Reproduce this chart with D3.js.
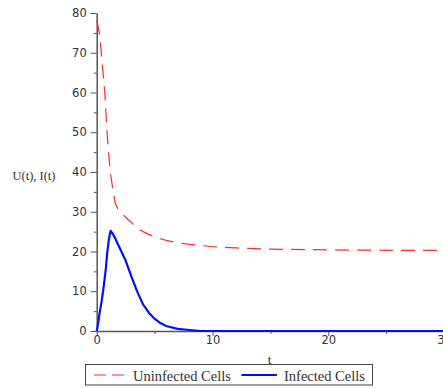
<!DOCTYPE html>
<html>
<head>
<meta charset="utf-8">
<script src="https://cdn.jsdelivr.net/npm/d3@7"></script>
<style>
  body { margin: 0; background: #fff; }
  svg { display: block; }
</style>
</head>
<body>
<script>
// time samples and the two solution curves
let tValues    = [0, 0.1, 0.25, 0.4, 0.55, 0.7, 0.8, 0.9, 1.05, 1.2, 1.4, 1.6, 1.8, 2.0, 2.5, 3.0, 3.5, 4.0, 4.5, 5.0, 5.5, 6.0, 7.0, 8.0, 9.0, 10, 12, 15, 20, 25, 30]
let uninfected = [78, 77, 74.5, 70, 65, 60, 55, 49.5, 44, 39.5, 35.5, 32.2, 30.8, 30, 28.6, 27.3, 25.9, 25.0, 24.3, 23.7, 23.2, 22.8, 22.2, 21.8, 21.5, 21.2, 20.9, 20.6, 20.4, 20.3, 20.3]
let infected   = [0, 1.5, 4.5, 7, 10, 13.5, 16, 19.5, 23, 25.2, 24.4, 23.3, 22.0, 20.8, 17.7, 13.7, 9.9, 6.7, 4.6, 3.1, 2.0, 1.25, 0.55, 0.25, 0, 0, 0, 0, 0, 0, 0]

let xTicks = [0, 10, 20, 30]
let yTicks = [0, 10, 20, 30, 40, 50, 60, 70, 80]
let seriesNames = ["Uninfected Cells", "Infected Cells"]

let width = 443
let height = 388

let svg = d3.select("body")
    .append("svg")
    .attr("width", width)
    .attr("height", height)

let xScale = d3.scaleLinear().domain([0, 30]).range([96.7, 444.1])
let yScale = d3.scaleLinear().domain([0, 80]).range([331, 13])

let axisColor = "#555"
let textColor = "#333"

// minor ticks first
svg.append("g")
    .attr("transform", "translate(0," + yScale(0) + ")")
    .call(d3.axisBottom(xScale).tickValues([5, 15, 25]).tickSize(3).tickFormat(""))
    .call(g => g.select(".domain").remove())
    .call(g => g.selectAll("line").attr("stroke", axisColor))

svg.append("g")
    .attr("transform", "translate(" + xScale(0) + ",0)")
    .call(d3.axisLeft(yScale).tickValues([5, 15, 25, 35, 45, 55, 65, 75]).tickSize(3).tickFormat(""))
    .call(g => g.select(".domain").remove())
    .call(g => g.selectAll("line").attr("stroke", axisColor))

// x axis
svg.append("g")
    .attr("transform", "translate(0," + yScale(0) + ")")
    .call(d3.axisBottom(xScale).tickValues(xTicks).tickSize(5).tickSizeOuter(0).tickPadding(0))
    .call(g => g.select(".domain").attr("stroke", axisColor).attr("stroke-width", 1.5))
    .call(g => g.selectAll("line").attr("stroke", axisColor))
    .call(g => g.selectAll("text")
        .attr("fill", textColor)
        .attr("font-family", "DejaVu Sans")
        .attr("font-size", 11.5)
        .attr("dy", "0.71em"))

// y axis
svg.append("g")
    .attr("transform", "translate(" + xScale(0) + ",0)")
    .call(d3.axisLeft(yScale).tickValues(yTicks).tickSize(6).tickSizeOuter(0).tickPadding(4))
    .call(g => g.select(".domain").attr("stroke", axisColor).attr("stroke-width", 1.5))
    .call(g => g.selectAll("line").attr("stroke", axisColor))
    .call(g => g.selectAll("text")
        .attr("fill", textColor)
        .attr("font-family", "DejaVu Sans")
        .attr("font-size", 11.5))

// axis labels
svg.append("text")
    .attr("x", 34)
    .attr("y", 179.5)
    .attr("text-anchor", "middle")
    .attr("font-family", "Liberation Serif")
    .attr("font-size", 12.5)
    .attr("fill", textColor)
    .text("U(t), I(t)")

svg.append("text")
    .attr("x", 269.5)
    .attr("y", 364)
    .attr("text-anchor", "middle")
    .attr("font-family", "Liberation Serif")
    .attr("font-size", 13)
    .attr("fill", textColor)
    .text("t")

// curves
let line = function(values) {
    return d3.line()
        .x(function(d, i) { return xScale(tValues[i]) })
        .y(function(d) { return yScale(d) })(values)
}

svg.append("path")
    .attr("d", line(uninfected))
    .attr("fill", "none")
    .attr("stroke", "#ff2a2a")
    .attr("stroke-width", 1.2)
    .attr("stroke-dasharray", "14,8")

svg.append("path")
    .attr("d", line(infected))
    .attr("fill", "none")
    .attr("stroke", "#0010ff")
    .attr("stroke-width", 2.2)
    .attr("stroke-linejoin", "round")

// legend
let legend = svg.append("g")

legend.append("rect")
    .attr("x", 85.5)
    .attr("y", 364.5)
    .attr("width", 287)
    .attr("height", 20.5)
    .attr("fill", "none")
    .attr("stroke", "#444")
    .attr("stroke-width", 1)

legend.append("line")
    .attr("x1", 94).attr("x2", 126)
    .attr("y1", 375).attr("y2", 375)
    .attr("stroke", "#ff2a2a")
    .attr("stroke-width", 1.2)
    .attr("stroke-dasharray", "12,6")

legend.append("line")
    .attr("x1", 241.5).attr("x2", 277)
    .attr("y1", 375).attr("y2", 375)
    .attr("stroke", "#0010ff")
    .attr("stroke-width", 2.2)

legend.selectAll(".legText")
    .data(seriesNames)
    .enter()
    .append("text")
    .attr("class", "legText")
    .attr("x", function(d, i) { return i == 0 ? 133 : 284 })
    .attr("y", 380.5)
    .attr("font-family", "Liberation Serif")
    .attr("font-size", 14.5)
    .attr("fill", textColor)
    .text(function(d) { return d })
</script>
</body>
</html>
